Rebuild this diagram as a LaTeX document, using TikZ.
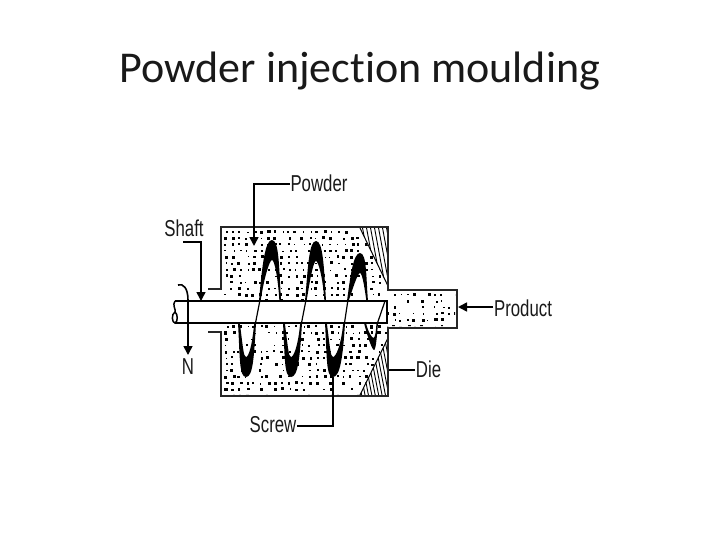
\documentclass[tikz,border=0pt]{standalone}
\usepackage{fontspec}
\setmainfont{Liberation Sans}
\newfontfamily\titlefont[Ligatures=NoCommon]{Carlito}
\usetikzlibrary{arrows.meta}
\tikzset{
  wall/.style={draw=black!85,line width=1.8pt,line join=miter},
  lbl/.style={font=\fontsize{23}{25}\selectfont,text=black!90,inner sep=1pt,xscale=.73},
  lead/.style={draw=black,line width=1.6pt},
  leadarrow/.style={lead,-{Triangle[length=9pt,width=9pt]}},
  strand/.style={draw=black,line width=1.2pt},
}
\newcommand{\peakshape}[4]{% apex x, left x, apex y, right x
  \fill[black] (#2,301) .. controls (#2+3,#3+26) and (#1-7,#3) .. (#1,#3)
     .. controls (#1+7,#3) and (#4-2,#3+26) .. (#4,301) -- (#4-1.6,301)
     .. controls (#4-3,#3+38) and (#1+2.5,#3+20) .. (#1,#3+20)
     .. controls (#1-2.5,#3+20) and (#2+5,#3+38) .. (#2+1.6,301) -- cycle;}
\newcommand{\troughshape}[4]{% apex x, left x, apex y, right x
  \fill[black] (#2,323) .. controls (#2+2,#3-20) and (#1-7,#3) .. (#1,#3)
     .. controls (#1+7,#3) and (#4-2,#3-20) .. (#4,323) -- (#4-1.8,323)
     .. controls (#4-4,#3-30) and (#1+2.5,#3-20) .. (#1,#3-20)
     .. controls (#1-2.5,#3-20) and (#2+5,#3-30) .. (#2+1.8,323) -- cycle;}
\begin{document}
\begin{tikzpicture}[x=1pt,y=-1pt]
\useasboundingbox (0,0) rectangle (720,540);
\fill[white] (0,0) rectangle (720,540);
\node[font=\titlefont\fontsize{44}{48}\selectfont,text=black!90,inner sep=0pt] (title) at (360,71) {Powder injection moulding};
% powder
\begin{scope}
\clip (223,229) -- (360,229) -- (387,286) -- (387,292) -- (455,292) -- (455,326) -- (387,326) -- (387,338) -- (360,394) -- (223,394) -- cycle;
\pgfmathsetseed{11}
\foreach \j in {0,...,26}{
  \foreach \i in {0,...,33}{
    \pgfmathsetmacro{\px}{226+\i*7+rand*1.8}
    \pgfmathsetmacro{\py}{232+\j*6.3+rand*.6}
    \pgfmathsetmacro{\ps}{.6+rnd*1.0}
    \pgfmathparse{rnd<.72?1:0}
    \ifnum\pgfmathresult=1
      \fill[black] (\px-\ps,\py-\ps) rectangle (\px+\ps,\py+\ps);
    \fi
  }
}
\end{scope}
\fill[white] (176,301.5) rectangle (386,322.5);
% die
\begin{scope}
\clip (360,228) -- (388,228) -- (388,286) -- cycle;
\foreach \k in {0,...,14}{\draw[line width=.9pt] (350+\k*4,225) -- (362+\k*4,290);}
\end{scope}
\begin{scope}
\clip (360,395) -- (388,395) -- (388,338) -- cycle;
\foreach \k in {0,...,14}{\draw[line width=.9pt] (350+\k*3.4,335) -- (362+\k*3.4,397);}
\end{scope}
\draw[line width=1pt] (360,228) -- (388,286) (360,395) -- (388,338);
% screw
\peakshape{272}{259}{240}{281}
\peakshape{316}{305}{241}{326}
\peakshape{360}{347}{253}{368}
\troughshape{246}{238}{377}{256}
\troughshape{291}{283}{377}{302}
\troughshape{333}{325}{377}{345}
\fill[black] (364,323) .. controls (367,335) and (372,350) .. (374,350) .. controls (376,350) and (377,335) .. (378,323) -- (376.4,323) .. controls (376,332) and (375,338) .. (373.5,338) .. controls (372,338) and (368,332) .. (366,323) -- cycle;
\draw[strand] (259.8,301) -- (255.5,323) (305.8,301) -- (301.5,323) (347.8,301) -- (344.5,323) (377.5,323) -- (385,301);
% walls
\draw[wall] (208,289) -- (221,289) -- (221,227) -- (388,227) -- (388,290) -- (457,290) -- (457,328) -- (388,328) -- (388,396) -- (221,396) -- (221,332) -- (208,332);
\draw[line width=1.5pt] (175,301) -- (387,301) -- (387,323) -- (175,323);
\draw[line width=1.5pt] (175,301) .. controls (172,305) and (176,309) .. (175,312) .. controls (171,314) and (172,323) .. (175,323) .. controls (178,322) and (178,314) .. (175,312);
% labels
\node[lbl] (powder) at (319,183) {Powder};
\node[lbl] (shaft) at (184,228) {Shaft};
\node[lbl] (product) at (523,308) {Product};
\node[lbl] (die) at (428.5,369) {Die};
\node[lbl] (screw) at (273,425) {Screw};
\node[lbl] (n) at (188,367) {N};
\coordinate (pw1) at (254,184);
\coordinate (pw2) at (254,246);
\coordinate (sh0) at (183,242);
\coordinate (sh1) at (201,242);
\coordinate (sh2) at (201,301);
\coordinate (pr1) at (458,307);
\coordinate (di1) at (389,370);
\coordinate (sc1) at (333,377);
\coordinate (sc2) at (333,426);
\coordinate (n0) at (178,285);
\coordinate (n2) at (188,355);
\draw[leadarrow] (powder.west |- pw1) -- (pw1) -- (pw2);
\draw[leadarrow] (sh0) -- (sh1) -- (sh2);
\draw[leadarrow] (product.west |- pr1) -- (pr1);
\draw[lead] (die.west |- di1) -- (di1);
\draw[lead] (screw.east |- sc2) -- (sc2) -- (sc1);
\draw[leadarrow] (n0) .. controls (183,283) and (188,288) .. (188,300) -- (n2);
\end{tikzpicture}
\end{document}
